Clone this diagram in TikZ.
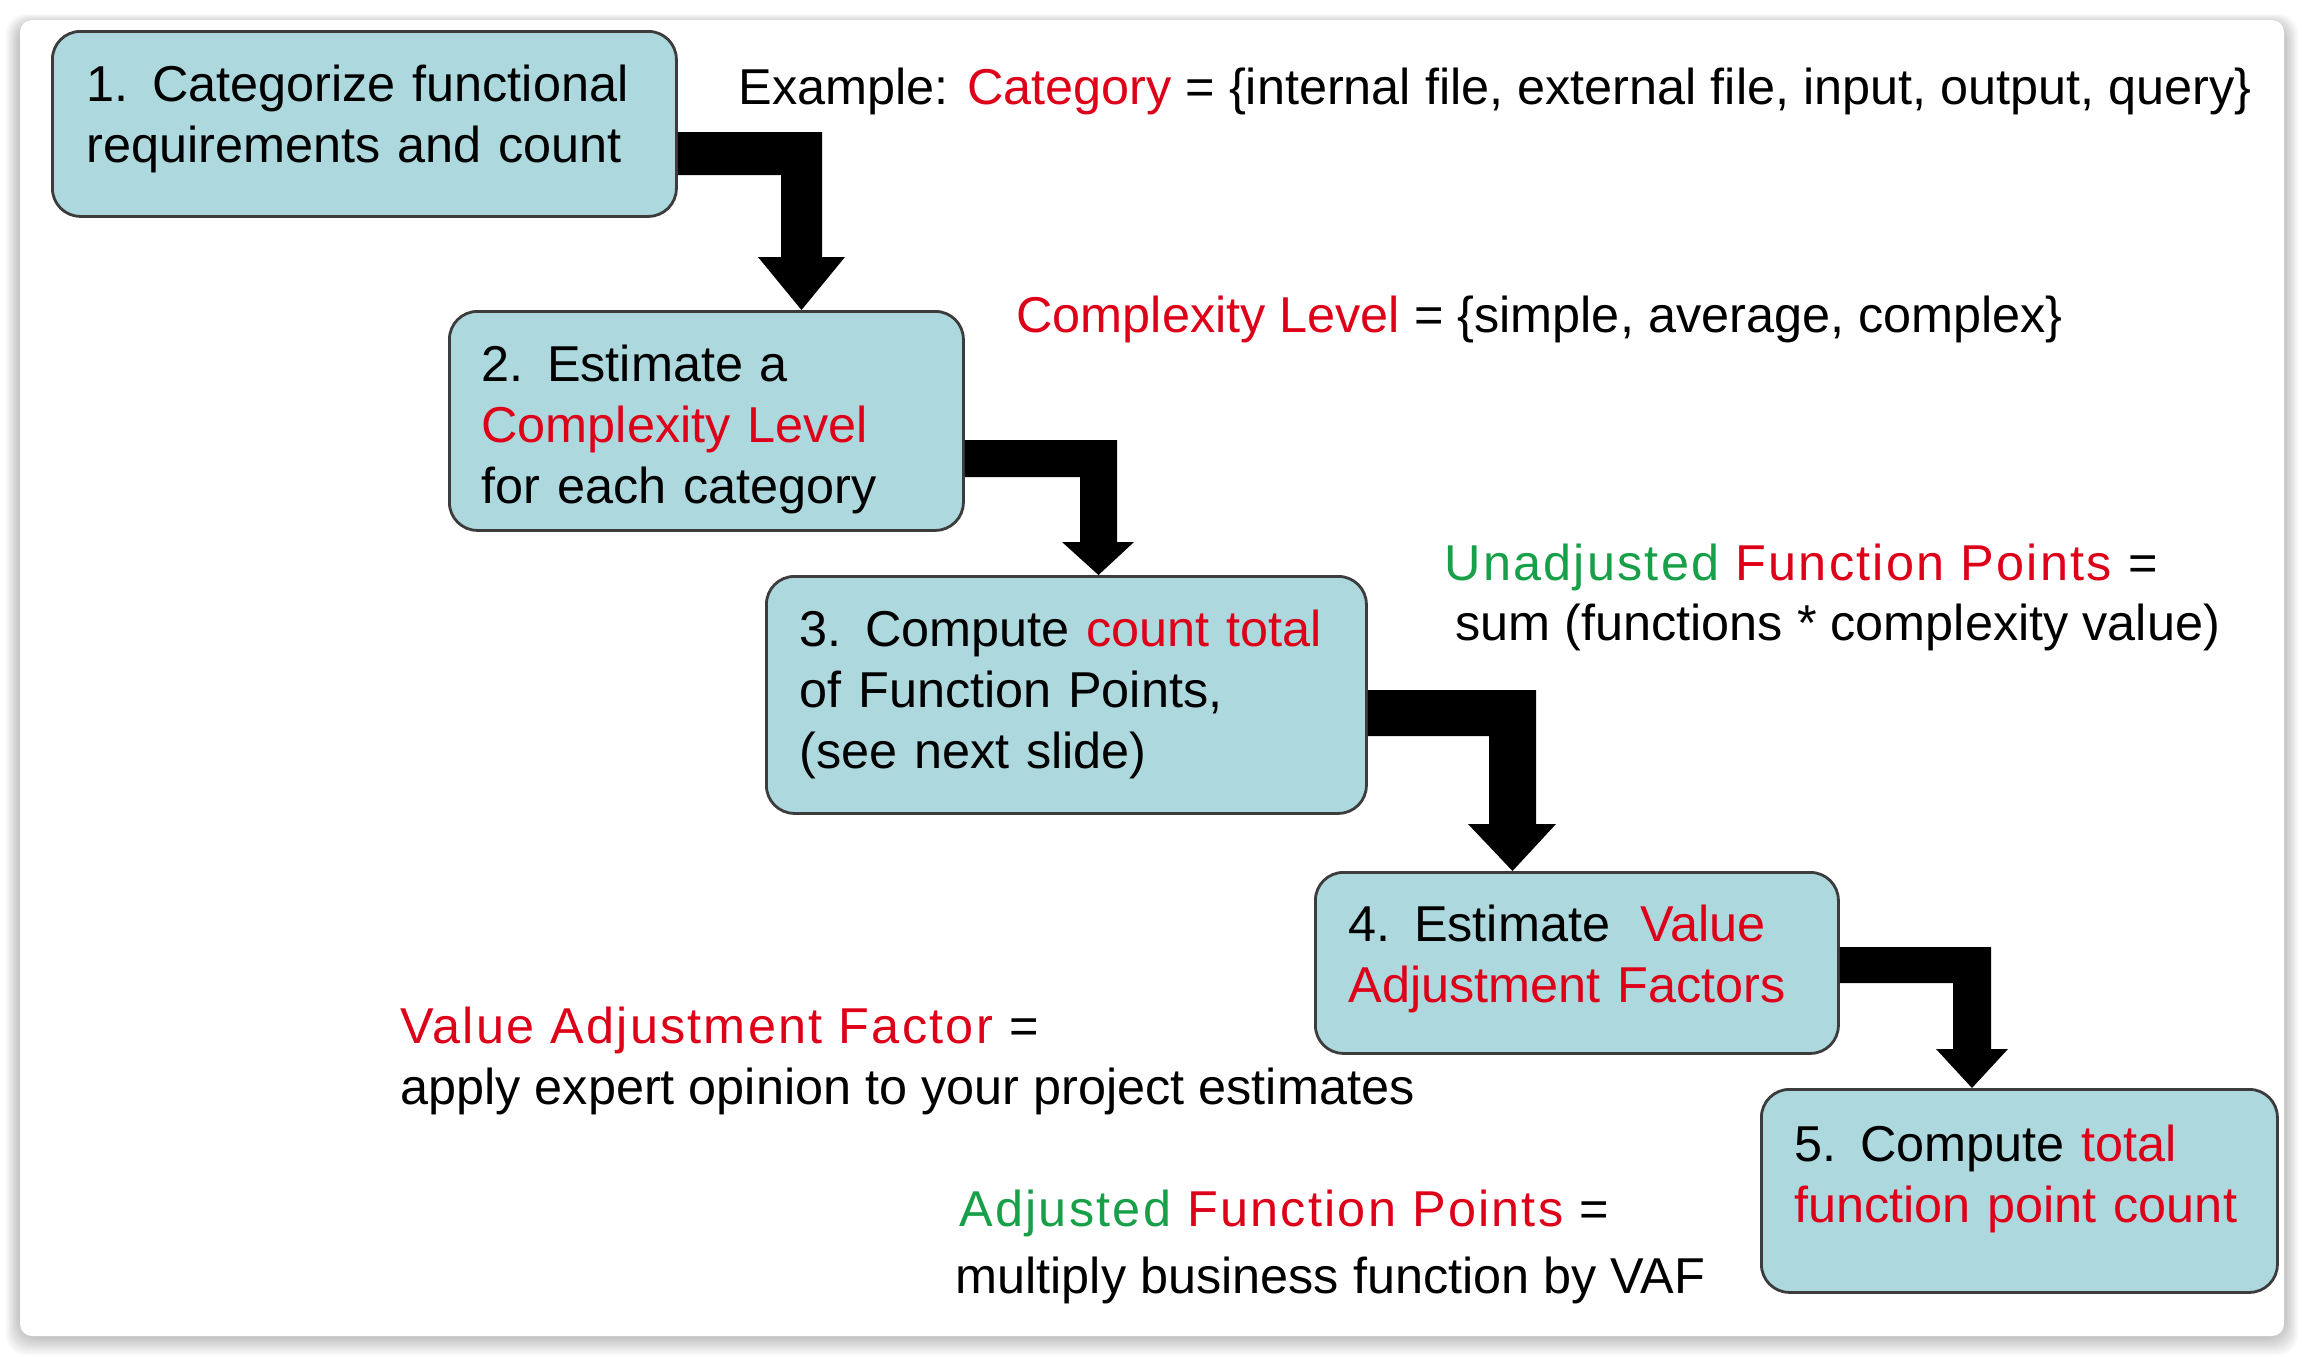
\documentclass[tikz,border=0pt]{standalone}
\usepackage{fontspec}
\setmainfont{Liberation Sans}
\usetikzlibrary{calc}
\definecolor{boxfill}{RGB}{172,216,222}
\definecolor{boxline}{RGB}{60,60,60}
\definecolor{hred}{RGB}{222,0,24}
\definecolor{hgreen}{RGB}{24,160,72}
\newcommand\fatarrow[9]{%
  \fill[black] (#1.east |- 0,#3) -- (#6,#3) -- (#6,#9) -- (#8,#9)
    -- ($(#2.north -| #5,0)!0.5!(#2.north -| #6,0)$)
    -- (#7,#9) -- (#5,#9) -- (#5,#4) -- (#1.east |- 0,#4) -- cycle;}
\newcommand\dpstrut[1]{\rule[-#1]{0pt}{0pt}}
\newcommand\htstrut[1]{\rule{0pt}{#1}}
\newcommand\numgap{\hspace{0.47em}}
\begin{document}
\begin{tikzpicture}[x=0.5pt,y=-0.5pt,
  box/.style={draw=boxline, line width=1.4pt, fill=boxfill, rounded corners=14pt,
    anchor=north west, align=left, inner ysep=0pt,
    font=\fontsize{25.2}{30.5}\selectfont},
  note/.style={anchor=base west, inner sep=0pt, font=\fontsize{25.2}{30.5}\selectfont},
  wide/.style={font=\fontsize{25.2}{30.5}\selectfont\addfontfeature{LetterSpace=4.4}}]
\useasboundingbox (0,0) rectangle (2304,1356);
\fill[white] (0,0) rectangle (2304,1356);
% card shadow
\foreach \i in {1,...,10}{
  \fill[black, opacity=0.022, rounded corners=10pt]
    (20-\i*1.4, 24-\i*1.0) rectangle (2284+\i*1.4, 1336+\i*1.9);
}
\fill[white, rounded corners=6pt] (20,20) rectangle (2284,1336);

% boxes
\node[box, minimum width=312pt, minimum height=92.5pt, inner xsep=17pt, text width=278pt]
  (b1) at (51,30) {1.\numgap Categorize functional\\requirements and count\dpstrut{10.3pt}};
\node[box, minimum width=257pt, minimum height=109.5pt, inner xsep=16pt, text width=225pt]
  (b2) at (448,310) {\htstrut{27pt}2.\numgap Estimate a\\\textcolor{hred}{Complexity Level}\\for each category};
\node[box, minimum width=300pt, minimum height=118.5pt, inner xsep=16.5pt, text width=267pt]
  (b3) at (765,575) {3.\numgap Compute \textcolor{hred}{count total}\\of Function Points,\\(see next slide)};
\node[box, minimum width=261.5pt, minimum height=90.5pt, inner xsep=16.5pt, text width=228.5pt]
  (b4) at (1314,871) {4.\numgap Estimate\hspace{0.6em}\textcolor{hred}{Value}\\\textcolor{hred}{Adjustment Factors}\dpstrut{9.3pt}};
\node[box, minimum width=258pt, minimum height=101.5pt, inner xsep=16.5pt, text width=225pt]
  (b5) at (1760,1088) {5.\numgap Compute \textcolor{hred}{total}\\\textcolor{hred}{function point count}\dpstrut{17.3pt}};

% connectors
\fatarrow{b1}{b2}{132}{175}{781}{822}{758}{845}{257}
\fatarrow{b2}{b3}{440}{477}{1080}{1117}{1062}{1134}{542}
\fatarrow{b3}{b4}{690}{736}{1489}{1536}{1468}{1556}{824}
\fatarrow{b4}{b5}{947}{983}{1953}{1991}{1936}{2008}{1049}

% notes
\node[note] (ex) at (738,104) {Example: \textcolor{hred}{Category} = \{internal file, external file, input, output, query\}};
\node[note] (cl) at (1016,332) {\textcolor{hred}{Complexity Level} = \{simple, average, complex\}};
\node[note, wide] (ufp1) at (1444,580) {\textcolor{hgreen}{Unadjusted} \textcolor{hred}{Function Points} =};
\node[note] (ufp2) at (1455,640) {sum (functions * complexity value)};
\node[note, wide] (vaf1) at (400,1043) {\textcolor{hred}{Value Adjustment Factor} =};
\node[note] (vaf2) at (400,1104) {apply expert opinion to your project estimates};
\node[note, wide] (afp1) at (959,1226) {\textcolor{hgreen}{Adjusted} \textcolor{hred}{Function Points} =};
\node[note] (afp2) at (955,1293) {multiply business function by VAF};
\end{tikzpicture}
\end{document}
